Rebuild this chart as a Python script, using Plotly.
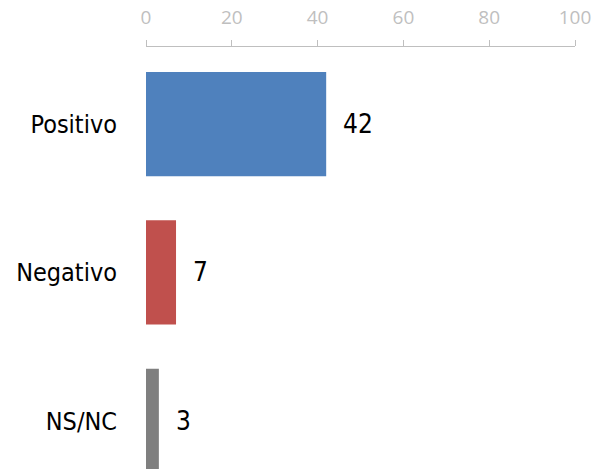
import plotly.graph_objects as go

categories = ["Positivo", "Negativo", "NS/NC"]
values = [42, 7, 3]
colors = ["#4F81BD", "#C0504D", "#7F7F7F"]
tick_vals = [0, 20, 40, 60, 80, 100]

FONT = "Liberation Sans Narrow, DejaVu Sans Condensed, Roboto"

fig = go.Figure()
fig.add_trace(go.Bar(
    x=values, y=categories, orientation="h",
    marker=dict(color=colors, line=dict(width=0)),
    width=0.703, hoverinfo="skip",
))

for c, v in zip(categories, values):
    fig.add_annotation(x=v, y=c, text=str(v), showarrow=False,
                       xanchor="left", xshift=15,
                       font=dict(family=FONT, size=26, color="#000000"))

fig.update_layout(
    width=606, height=469,
    margin=dict(l=146, r=31, t=47, b=0, pad=0),
    paper_bgcolor="white", plot_bgcolor="white",
    showlegend=False,
    xaxis=dict(side="top", range=[0, 100], tickvals=tick_vals,
               showgrid=False, zeroline=False,
               showline=True, linecolor="#BFBFBF", linewidth=1,
               ticks="outside", ticklen=6, tickcolor="#BFBFBF",
               ticklabelstandoff=8,
               tickfont=dict(family="Open Sans, Liberation Sans", size=19, color="#BFBFBF")),
    yaxis=dict(autorange=False, range=[2.325, -0.52], categoryorder="array", categoryarray=categories,
               showgrid=False, zeroline=False, showline=False, ticks="",
               ticklabelstandoff=28,
               tickfont=dict(family=FONT, size=25, color="#000000")),
)

fig.write_html("out.html",
               config={"displayModeBar": False, "staticPlot": True},
               post_script="document.body.style.margin='0';document.body.style.overflow='hidden';")
